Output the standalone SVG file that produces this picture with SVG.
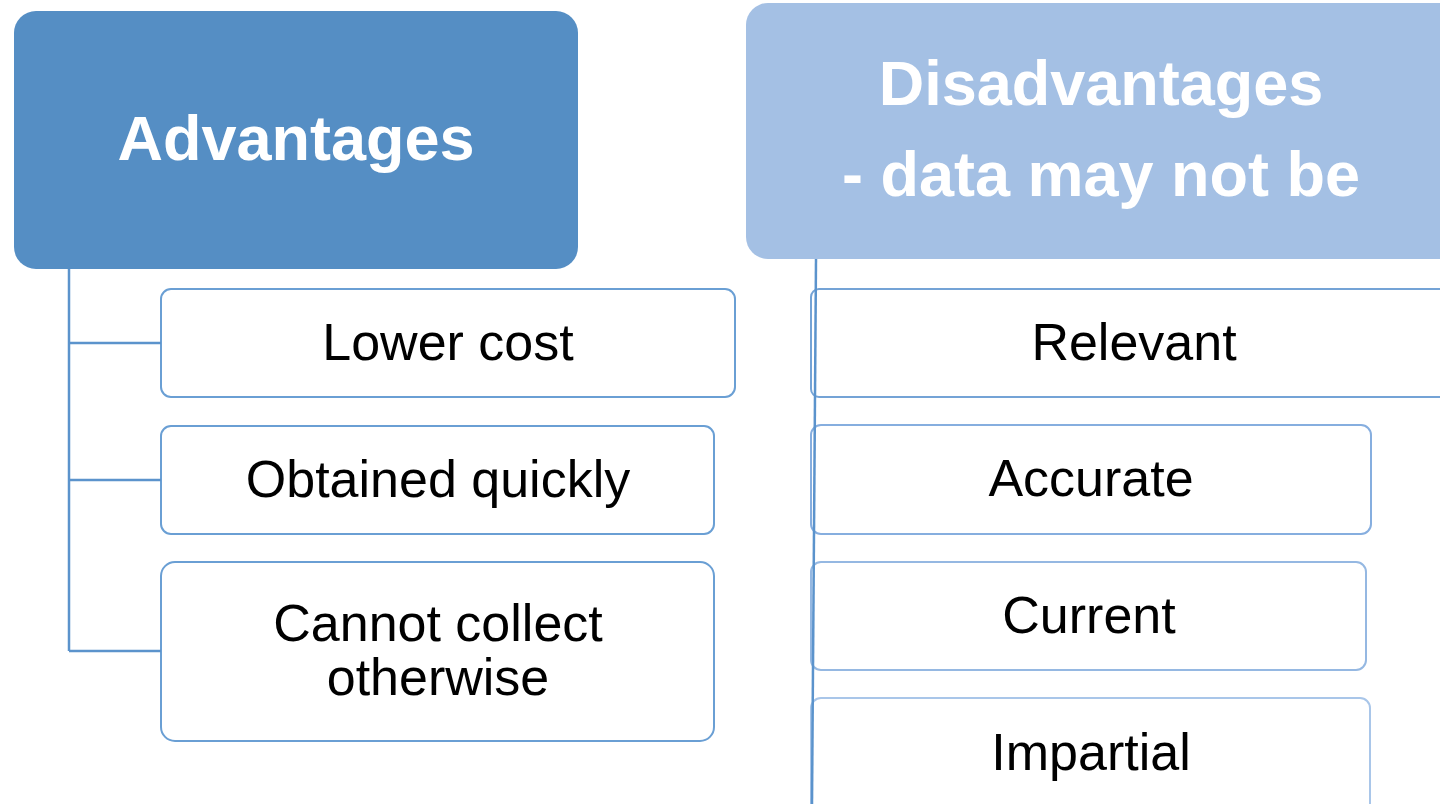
<svg xmlns="http://www.w3.org/2000/svg" width="1440" height="804" viewBox="0 0 1440 804">
<style>
.head{font-family:"Liberation Sans",Arial,sans-serif;font-weight:bold;font-size:63px;fill:#ffffff;text-anchor:middle}
.item{font-family:"Liberation Sans",Arial,sans-serif;font-size:52px;fill:#000000;text-anchor:middle}
.box{fill:#ffffff;stroke-width:2}
.conn{fill:none;stroke:#5b93cc;stroke-width:2.5}
</style>
<rect width="1440" height="804" fill="#ffffff"/>
<g id="advantages">
<rect x="14" y="11" width="564" height="258" rx="22" fill="#558ec4"/>
<text class="head" x="296" y="160">Advantages</text>
</g>
<g id="disadvantages">
<rect x="746" y="3" width="720" height="256" rx="22" fill="#a4c0e4"/>
<text class="head" x="1101" y="105">Disadvantages</text>
<text class="head" x="1101" y="196">- data may not be</text>
</g>
<g id="lower-cost">
<rect class="box" x="161" y="289" width="574" height="108" rx="10" stroke="#6a9fd4"/>
<text class="item" x="448" y="360">Lower cost</text>
</g>
<g id="obtained-quickly">
<rect class="box" x="161" y="426" width="553" height="108" rx="10" stroke="#6a9fd4"/>
<text class="item" x="438" y="497">Obtained quickly</text>
</g>
<g id="cannot-collect">
<rect class="box" x="161" y="562" width="553" height="179" rx="14" stroke="#6a9fd4"/>
<text class="item" x="438" y="641">Cannot collect</text>
<text class="item" x="438" y="695">otherwise</text>
</g>
<g id="relevant">
<rect class="box" x="811" y="289" width="660" height="108" rx="8" stroke="#74a3d6"/>
<text class="item" x="1134" y="360">Relevant</text>
</g>
<g id="accurate">
<rect class="box" x="811" y="425" width="560" height="109" rx="10" stroke="#86aedf"/>
<text class="item" x="1091" y="496">Accurate</text>
</g>
<g id="current">
<rect class="box" x="811" y="562" width="555" height="108" rx="10" stroke="#95b8e2"/>
<text class="item" x="1089" y="633">Current</text>
</g>
<g id="impartial">
<rect class="box" x="811" y="698" width="559" height="130" rx="10" stroke="#a9c6e9"/>
<text class="item" x="1091" y="770">Impartial</text>
</g>
<g id="connectors">
<path class="conn" d="M69 269 V651 M69 343 H161 M69 480 H161 M69 651 H161"/>
<path class="conn" d="M816 259 L812 804"/>
</g>
</svg>
